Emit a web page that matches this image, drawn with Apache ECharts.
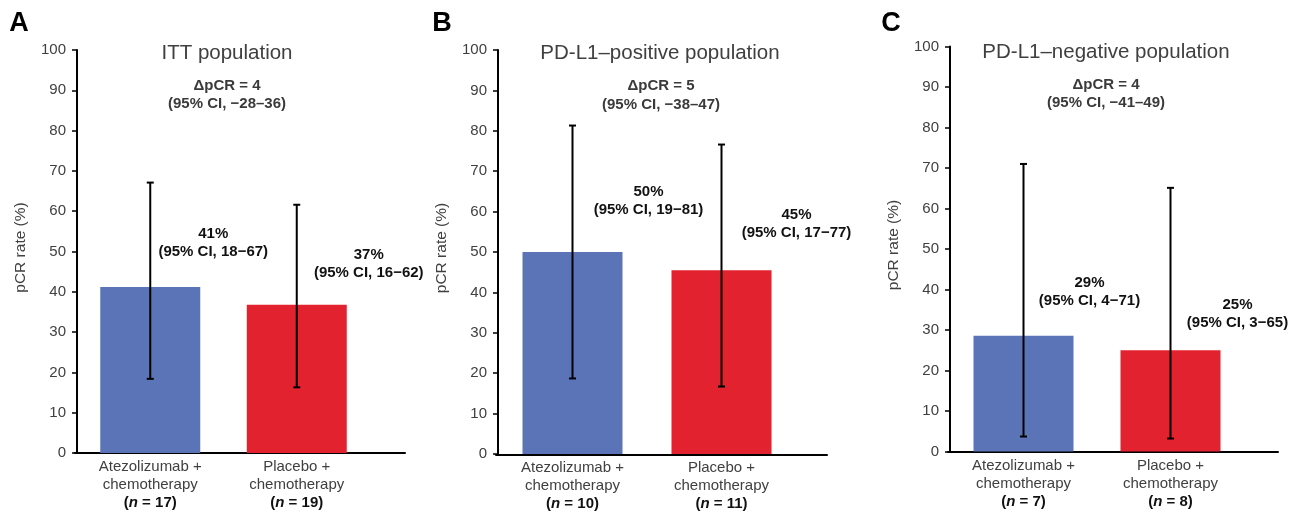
<!DOCTYPE html>
<html>
<head>
<meta charset="utf-8">
<script src="https://cdn.jsdelivr.net/npm/echarts@6/dist/echarts.min.js"></script>
<style>
html,body{margin:0;padding:0;background:#fff;}
#chart{width:1293px;height:513px;}
</style>
</head>
<body>
<div id="chart"></div>
<script>
// ---------------- DATA ----------------
const categories = ['Atezolizumab +\nchemotherapy', 'Placebo +\nchemotherapy'];
const panelLetters = ['A', 'B', 'C'];
const panelTitles = ['ITT population', 'PD-L1–positive population', 'PD-L1–negative population'];
const sampleSizes = [[17, 19], [10, 11], [7, 8]];
const pcrRates = [[41.2, 36.8], [50.0, 45.5], [28.6, 25.0]];
const ciLow = [[18.4, 16.3], [18.7, 16.7], [3.7, 3.2]];
const ciHigh = [[67.1, 61.6], [81.3, 76.6], [71.0, 65.1]];
const rateLabels = [['41%', '37%'], ['50%', '45%'], ['29%', '25%']];
const ciLabels = [['18−67', '16−62'], ['19−81', '17−77'], ['4−71', '3−65']];
const deltaPcr = [4, 5, 4];
const deltaCi = ['−28–36', '−38–47', '−41–49'];
const yMin = 0, yMax = 100, yInterval = 10;
const yAxisName = 'pCR rate (%)';

// ---------------- LAYOUT / STYLE ----------------
const FONT = '"Liberation Sans", Arial, Helvetica, sans-serif';
const barColors = ['#5a74b7', '#e2222f'];
const panels = [
  { left: 77,  top: 50,   height: 403, width: 293, axisWidth: 328,
    letter: [19, 24], title: [227, 53], delta: [227, 86], deltaCiY: 104,
    labelOffsets: [[63, -26], [72, -23]] },
  { left: 498, top: 50,   height: 405, width: 298, axisWidth: 329,
    letter: [442, 24], title: [660, 53], delta: [661, 86], deltaCiY: 105,
    labelOffsets: [[76, -33], [75, -28]] },
  { left: 950, top: 46.5, height: 405, width: 294, axisWidth: 328,
    letter: [891, 24], title: [1106, 52], delta: [1106, 85], deltaCiY: 103,
    labelOffsets: [[66, -26], [67, -18]] }
];

const grid = [], xAxis = [], yAxis = [], series = [], graphic = [];

panels.forEach((p, pi) => {
  const gMain = grid.length;
  grid.push({ left: p.left, top: p.top, width: p.width, height: p.height, containLabel: false });
  grid.push({ left: p.left - 2, top: p.top, width: p.axisWidth + 2, height: p.height, containLabel: false });

  xAxis.push({
    type: 'category', gridIndex: gMain, data: categories,
    axisLine: { show: false }, axisTick: { show: false },
    axisLabel: {
      interval: 0, hideOverlap: false,
      margin: 5, fontFamily: FONT, fontSize: 15, color: '#404040', lineHeight: 18,
      formatter: (v, idx) => v + '\n{b|(}{i|n}{b| = ' + sampleSizes[pi][idx] + ')}',
      rich: {
        b: { fontFamily: FONT, fontSize: 15, fontWeight: 'bold', color: '#111', lineHeight: 18 },
        i: { fontFamily: FONT, fontSize: 15, fontWeight: 'bold', fontStyle: 'italic', color: '#111', lineHeight: 18 }
      }
    }
  });
  xAxis.push({
    type: 'value', gridIndex: gMain + 1, min: 0, max: 1,
    axisLine: { show: true, onZero: false, lineStyle: { color: '#000', width: 2 } },
    axisTick: { show: false }, axisLabel: { show: false }, splitLine: { show: false }
  });

  yAxis.push({
    type: 'value', gridIndex: gMain, min: yMin, max: yMax, interval: yInterval,
    name: yAxisName, nameLocation: 'middle', nameGap: 48, nameRotate: 90,
    nameTextStyle: { fontFamily: FONT, fontSize: 15.5, color: '#404040', padding: [0, 0, 0, 8] },
    axisLine: { show: true, lineStyle: { color: '#000', width: 2 } },
    axisTick: { show: true, length: 5, lineStyle: { color: '#000', width: 1.5 } },
    axisLabel: { margin: 11, fontFamily: FONT, fontSize: 15, color: '#404040' },
    splitLine: { show: false }
  });
  yAxis.push({
    type: 'value', gridIndex: gMain + 1, min: yMin, max: yMax, show: false
  });

  series.push({
    type: 'bar', xAxisIndex: gMain, yAxisIndex: gMain, barWidth: 100, z: 2,
    data: pcrRates[pi].map((v, i) => ({
      value: v,
      itemStyle: { color: barColors[i] },
      label: { offset: p.labelOffsets[i] }
    })),
    label: {
      show: true, position: 'top', distance: 0, align: 'center',
      fontFamily: FONT, fontSize: 15, fontWeight: 'bold', color: '#111', lineHeight: 18,
      formatter: (prm) => rateLabels[pi][prm.dataIndex] + '\n(95% CI, ' + ciLabels[pi][prm.dataIndex] + ')'
    }
  });

  series.push({
    type: 'custom', xAxisIndex: gMain, yAxisIndex: gMain, z: 5,
    data: ciLow[pi].map((lo, i) => [i, lo, ciHigh[pi][i]]),
    encode: { x: 0, y: [1, 2] },
    renderItem: (params, api) => {
      const x = api.value(0);
      const lo = api.coord([x, api.value(1)]);
      const hi = api.coord([x, api.value(2)]);
      const hw = 3.5;
      const style = { stroke: '#000', lineWidth: 2 };
      return {
        type: 'group', children: [
          { type: 'line', shape: { x1: lo[0], y1: lo[1], x2: hi[0], y2: hi[1] }, style },
          { type: 'line', shape: { x1: lo[0] - hw, y1: lo[1], x2: lo[0] + hw, y2: lo[1] }, style },
          { type: 'line', shape: { x1: hi[0] - hw, y1: hi[1], x2: hi[0] + hw, y2: hi[1] }, style }
        ]
      };
    }
  });

  graphic.push({
    type: 'text', x: p.letter[0], y: p.letter[1],
    style: { text: panelLetters[pi], font: 'bold 27px ' + FONT, fill: '#000', align: 'center', verticalAlign: 'middle' }
  });
  graphic.push({
    type: 'text', x: p.title[0], y: p.title[1],
    style: { text: panelTitles[pi], font: '20.5px ' + FONT, fill: '#404040', align: 'center', verticalAlign: 'middle' }
  });
  graphic.push({
    type: 'text', x: p.delta[0], y: p.delta[1],
    style: { text: 'ΔpCR = ' + deltaPcr[pi], font: 'bold 15px ' + FONT, fill: '#3a3a3a', align: 'center', verticalAlign: 'middle' }
  });
  graphic.push({
    type: 'text', x: p.delta[0], y: p.deltaCiY,
    style: { text: '(95% CI, ' + deltaCi[pi] + ')', font: 'bold 15px ' + FONT, fill: '#3a3a3a', align: 'center', verticalAlign: 'middle' }
  });
});

const chart = echarts.init(document.getElementById('chart'), null, { renderer: 'canvas' });
chart.setOption({
  backgroundColor: '#fff',
  animation: false,
  grid, xAxis, yAxis, series, graphic
});
</script>
</body>
</html>
